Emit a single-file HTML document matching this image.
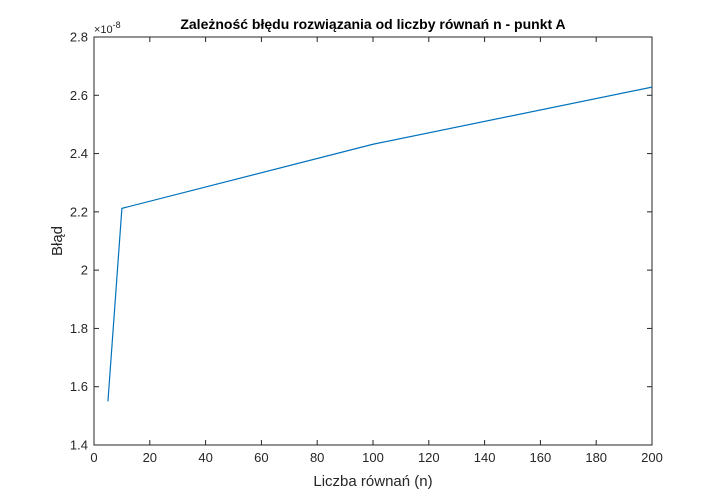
<!DOCTYPE html>
<html><head><meta charset="utf-8"><style>
html,body{margin:0;padding:0;background:#fff;}
svg{display:block;font-family:"Liberation Sans",Arial,sans-serif;}
</style></head><body>
<svg id="chart" width="721" height="500" xmlns="http://www.w3.org/2000/svg">
<rect x="0" y="0" width="721" height="500" fill="#fff"/>
<text x="373" y="29" text-anchor="middle" font-size="14" font-weight="bold" fill="#000">Zależność błędu rozwiązania od liczby równań n - punkt A</text>
<text x="373" y="486" text-anchor="middle" font-size="15" fill="#262626">Liczba równań (n)</text>
<text x="0" y="0" transform="translate(62,241) rotate(-90)" text-anchor="middle" font-size="15" fill="#262626">Błąd</text>
<text x="94" y="33" font-size="11" fill="#262626">×10<tspan dy="-5" font-size="9">-8</tspan></text>
<g id="axes"></g>
</svg>
<script>
const xValues = [5, 10, 100, 200];
const yValues = [1.55, 2.212, 2.432, 2.628];
const xTicks = [0, 20, 40, 60, 80, 100, 120, 140, 160, 180, 200];
const yTicks = [1.4, 1.6, 1.8, 2, 2.2, 2.4, 2.6, 2.8];
const yTickLabels = ["1.4", "1.6", "1.8", "2", "2.2", "2.4", "2.6", "2.8"];

const L = 94, R = 652, T = 37, B = 445;
const xMin = 0, xMax = 200, yMin = 1.4, yMax = 2.8;
const xs = v => L + (v - xMin) / (xMax - xMin) * (R - L);
const ys = v => B - (v - yMin) / (yMax - yMin) * (B - T);
const NS = "http://www.w3.org/2000/svg";
const g = document.getElementById('axes');
function mk(tag, attrs) {
  const e = document.createElementNS(NS, tag);
  for (const k in attrs) e.setAttribute(k, attrs[k]);
  g.appendChild(e);
  return e;
}
const box = mk('rect', {x: L, y: T, width: R - L, height: B - T, fill: 'none', stroke: '#262626', 'stroke-width': 1});


xTicks.forEach(t => {
  const x = xs(t);
  const a = mk('line', {x1: x, y1: B, x2: x, y2: B - 5, stroke: '#262626'});
  
  
  const b = mk('line', {x1: x, y1: T, x2: x, y2: T + 5, stroke: '#262626'});
  
  
  const tx = mk('text', {x: x, y: B + 17, 'text-anchor': 'middle', 'font-size': 13, fill: '#262626'});
  tx.textContent = String(t);
  
  
});
yTicks.forEach((t, i) => {
  const y = ys(t);
  const a = mk('line', {x1: L, y1: y, x2: L + 5, y2: y, stroke: '#262626'});
  
  
  const b = mk('line', {x1: R, y1: y, x2: R - 5, y2: y, stroke: '#262626'});
  
  
  const tx = mk('text', {x: L - 6, y: y + 4.5, 'text-anchor': 'end', 'font-size': 13, fill: '#262626'});
  tx.textContent = yTickLabels[i];
  
  
});
const pts = xValues.map((v, i) => xs(v).toFixed(2) + ',' + ys(yValues[i]).toFixed(2)).join(' ');
const line = mk('polyline', {points: pts, fill: 'none', stroke: '#0072BD', 'stroke-width': 1.2});


</script>
</body></html>
